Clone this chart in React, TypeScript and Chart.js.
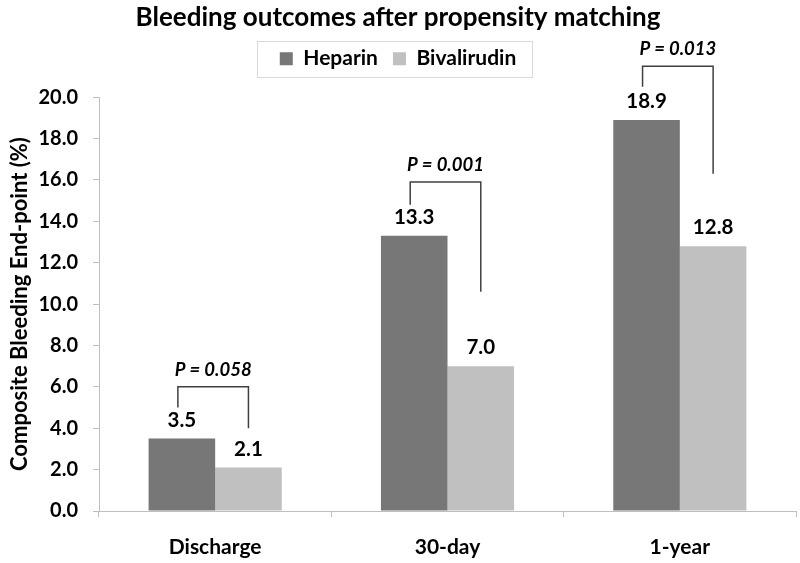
import React, { useEffect, useRef } from "react";
import { Chart, registerables } from "chart.js";

Chart.register(...registerables);

const FONT = "Lato, 'Open Sans', sans-serif";

const categories = ["Discharge", "30-day", "1-year"];
const heparin = [3.5, 13.3, 18.9];
const bivalirudin = [2.1, 7.0, 12.8];
const pLabels = ["P = 0.058", "P = 0.001", "P = 0.013"];
const bracketTop = [6.0, 15.9, 21.5];
const bracketLeftEnd = [5.0, 14.8, 20.5];
const bracketRightEnd = [4.0, 10.6, 16.3];
const yMin = 0;
const yMax = 20;
const yStep = 2;

const HEPARIN_COLOR = "#777777";
const BIVAL_COLOR = "#c0c0c0";
const AXIS_COLOR = "#bfbfbf";

const annotationPlugin = {
  id: "annotations",
  afterDatasetsDraw(chart: any) {
    const ctx = chart.ctx;
    const yScale = chart.scales.y;
    const m0 = chart.getDatasetMeta(0);
    const m1 = chart.getDatasetMeta(1);
    ctx.save();
    ctx.fillStyle = "#000";
    ctx.textAlign = "center";
    ctx.textBaseline = "alphabetic";
    ctx.font = `bold 20.5px ${FONT}`;
    [m0, m1].forEach((meta: any, di: number) => {
      meta.data.forEach((bar: any, i: number) => {
        const v = chart.data.datasets[di].data[i] as number;
        ctx.fillText(v.toFixed(1), bar.x, bar.y - 12);
      });
    });
    ctx.strokeStyle = "#404040";
    ctx.lineWidth = 1.5;
    categories.forEach((_, i) => {
      const xl = m0.data[i].x - 4;
      const xr = m1.data[i].x;
      const yt = yScale.getPixelForValue(bracketTop[i]);
      const yl = yScale.getPixelForValue(bracketLeftEnd[i]);
      const yr = yScale.getPixelForValue(bracketRightEnd[i]);
      ctx.beginPath();
      ctx.moveTo(xl, yl);
      ctx.lineTo(xl, yt);
      ctx.lineTo(xr, yt);
      ctx.lineTo(xr, yr);
      ctx.stroke();
      ctx.font = `italic bold 18.5px ${FONT}`;
      ctx.fillText(pLabels[i], (xl + xr) / 2, yt - 11);
    });
    ctx.restore();
  },
  afterDraw(chart: any) {
    const lg = chart.legend;
    if (!lg || !lg.legendHitBoxes || !lg.legendHitBoxes.length) return;
    const hb = lg.legendHitBoxes;
    const first = hb[0];
    const last = hb[hb.length - 1];
    const left = first.left - 23;
    const right = last.left + last.width + 16;
    const cy = first.top + first.height / 2;
    const ctx = chart.ctx;
    ctx.save();
    ctx.strokeStyle = "#d9d9d9";
    ctx.lineWidth = 1;
    ctx.strokeRect(Math.round(left) + 0.5, Math.round(cy - 18) + 0.5, Math.round(right - left), 36);
    ctx.restore();
  },
};

export default function App() {
  const ref = useRef<HTMLCanvasElement>(null);
  useEffect(() => {
    if (!ref.current) return;
    const chart = new Chart(ref.current, {
      type: "bar",
      data: {
        labels: categories,
        datasets: [
          {
            label: "Heparin",
            data: heparin,
            backgroundColor: HEPARIN_COLOR,
            borderWidth: 0,
            categoryPercentage: 0.573,
            barPercentage: 1,
          },
          {
            label: "Bivalirudin",
            data: bivalirudin,
            backgroundColor: BIVAL_COLOR,
            borderWidth: 0,
            categoryPercentage: 0.573,
            barPercentage: 1,
          },
        ],
      },
      options: {
        responsive: false,
        animation: false,
        devicePixelRatio: 1,
        layout: { padding: { top: 0, left: 0, right: 4, bottom: 0 } },
        plugins: {
          title: {
            display: true,
            text: "Bleeding outcomes after propensity matching",
            color: "#000",
            font: { family: FONT, size: 26, weight: "bold", lineHeight: 1.2 },
            padding: { top: 2, bottom: 0 },
          },
          subtitle: {
            display: true,
            text: "",
            weight: 500,
            font: { size: 1, lineHeight: 1 },
            padding: { top: 0, bottom: 17 },
          } as any,
          legend: {
            display: true,
            position: "top",
            labels: {
              boxWidth: 13,
              boxHeight: 13,
              padding: 15,
              color: "#000",
              font: { family: FONT, size: 21, weight: "bold" },
            },
          },
          tooltip: { enabled: false },
        },
        scales: {
          x: {
            grid: {
              display: true,
              drawOnChartArea: false,
              drawTicks: true,
              tickLength: 6,
              color: AXIS_COLOR,
              offset: true,
            },
            border: { color: AXIS_COLOR, width: 1 },
            ticks: {
              color: "#000",
              padding: 18,
              font: { family: FONT, size: 21, weight: "bold", lineHeight: 1.2 },
            },
            afterFit(scale: any) {
              scale.height = 52;
            },
          },
          y: {
            min: yMin,
            max: yMax,
            grid: {
              display: true,
              drawOnChartArea: false,
              drawTicks: true,
              tickLength: 6,
              color: AXIS_COLOR,
            },
            border: { color: AXIS_COLOR, width: 1 },
            ticks: {
              stepSize: yStep,
              color: "#000",
              padding: 15,
              font: { family: FONT, size: 20, weight: "bold" },
              callback: (v: any) => Number(v).toFixed(1),
            },
            title: {
              display: true,
              text: "Composite Bleeding End-point (%)",
              color: "#000",
              font: { family: FONT, size: 22, weight: "bold", lineHeight: 1.2 },
              padding: { top: 7, bottom: 0 },
            },
            afterFit(scale: any) {
              scale.width = 99;
            },
          },
        },
      },
      plugins: [annotationPlugin],
    });
    return () => chart.destroy();
  }, []);
  return (
    <div style={{ position: "absolute", left: 0, top: 0, width: 800, height: 563, background: "#fff" }}>
      <canvas ref={ref} width={800} height={563} />
    </div>
  );
}
